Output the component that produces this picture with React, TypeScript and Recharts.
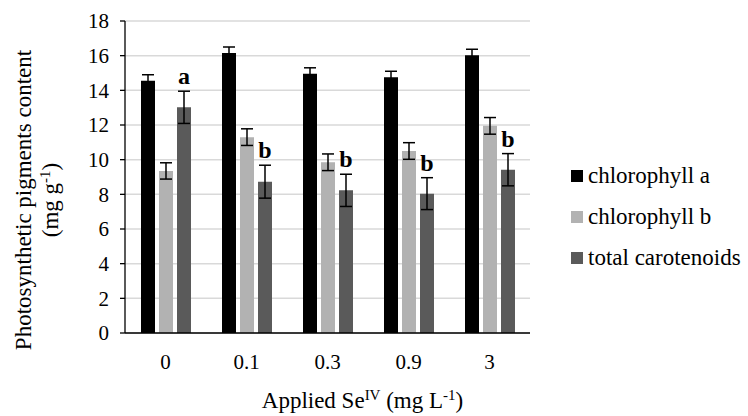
import React from "react"
import { BarChart, Bar, XAxis, YAxis, CartesianGrid, ErrorBar, LabelList, Legend } from "recharts"

const FONT = '"Liberation Serif", "Times New Roman", serif'

// Applied Se(IV) doses
const doses = ["0", "0.1", "0.3", "0.9", "3"]

const chlorophyllA = [14.55, 16.15, 14.95, 14.75, 16.02]
const chlorophyllB = [9.35, 11.3, 9.85, 10.5, 11.95]
const carotenoids = [13.02, 8.73, 8.23, 8.04, 9.42]

const errA = [0.35, 0.35, 0.35, 0.35, 0.35]
const errB = [0.47, 0.48, 0.48, 0.48, 0.48]
const errC = [0.93, 0.95, 0.93, 0.92, 0.93]

const letters = ["a", "b", "b", "b", "b"]

const yTicks = [0, 2, 4, 6, 8, 10, 12, 14, 16, 18]

const SERIES = [
  { key: "chlA", name: "chlorophyll a", color: "#000000", err: "errA" },
  { key: "chlB", name: "chlorophyll b", color: "#b2b2b2", err: "errB" },
  { key: "car", name: "total carotenoids", color: "#5a5a5a", err: "errC" },
]

const data = doses.map((d, i) => ({
  dose: d,
  chlA: chlorophyllA[i],
  chlB: chlorophyllB[i],
  car: carotenoids[i],
  errA: errA[i],
  errB: errB[i],
  errC: errC[i],
  letter: letters[i],
}))

// letter sits just above the carotenoid error bar
const renderLetter = (props: any) => {
  const { x, y, width, height, index } = props
  const perUnit = Number(height) / carotenoids[index]
  const top = Number(y) - errC[index] * perUnit
  return (
    <text
      x={Number(x) + Number(width) / 2}
      y={top - 7}
      textAnchor="middle"
      fontFamily={FONT}
      fontWeight="bold"
      fontSize={24}
      fill="#000"
    >
      {letters[index]}
    </text>
  )
}

const renderLegend = () => (
  <div style={{ fontFamily: FONT, fontSize: 23, color: "#000" }}>
    {SERIES.map((s) => (
      <div key={s.key} style={{ height: 41, display: "flex", alignItems: "center", whiteSpace: "nowrap" }}>
        <span style={{ width: 12, height: 12, background: s.color, display: "inline-block", marginRight: 5 }} />
        <span>{s.name}</span>
      </div>
    ))}
  </div>
)

const XTitle = (props: any) => {
  const { viewBox } = props
  const cx = viewBox.x + viewBox.width / 2 + 35
  return (
    <text x={cx} y={408} textAnchor="middle" fontFamily={FONT} fontSize={23} fill="#000">
      Applied Se
      <tspan dy={-8} fontSize={15}>IV</tspan>
      <tspan dy={8}> (mg L</tspan>
      <tspan dy={-8} fontSize={15}>-1</tspan>
      <tspan dy={8}>)</tspan>
    </text>
  )
}

const YTitle = (props: any) => {
  const { viewBox } = props
  const cy = viewBox.y + viewBox.height / 2 + 23
  return (
    <g fontFamily={FONT} fontSize={23} fill="#000">
      <text x={31} y={cy} textAnchor="middle" transform={`rotate(-90, 31, ${cy})`}>
        Photosynthetic pigments content
      </text>
      <text x={58} y={cy} textAnchor="middle" transform={`rotate(-90, 58, ${cy})`}>
        (mg g
        <tspan dy={-8} fontSize={15}>-1</tspan>
        <tspan dy={8}>)</tspan>
      </text>
    </g>
  )
}

export default function App() {
  return (
    <div style={{ position: "absolute", left: 0, top: 0, width: 748, height: 416, background: "#fff" }}>
      <BarChart
        width={748}
        height={416}
        data={data}
        margin={{ top: 21, right: 218, bottom: 0, left: 0 }}
        barSize={14}
        barGap={4}
      >
        <CartesianGrid vertical={false} stroke="#d9d9d9" strokeWidth={1.5} />
        <XAxis
          dataKey="dose"
          height={83}
          axisLine={{ stroke: "#000", strokeWidth: 1.3 }}
          tickLine={false}
          tickSize={0}
          tickMargin={21}
          tick={{ fill: "#000", fontSize: 21, fontFamily: FONT }}
          label={<XTitle />}
        />
        <YAxis
          width={125}
          domain={[0, 18]}
          ticks={yTicks}
          interval={0}
          axisLine={{ stroke: "#000", strokeWidth: 1.3 }}
          tickLine={{ stroke: "#000", strokeWidth: 1.3 }}
          tickSize={5}
          tickMargin={11}
          tick={{ fill: "#000", fontSize: 21, fontFamily: FONT }}
          label={<YTitle />}
        />
        {SERIES.map((s) => (
          <Bar key={s.key} dataKey={s.key} name={s.name} fill={s.color} isAnimationActive={false}>
            <ErrorBar dataKey={s.err} width={6} stroke="#000" strokeWidth={1.5} isAnimationActive={false} />
            {s.key === "car" && <LabelList dataKey="letter" content={renderLetter} />}
          </Bar>
        ))}
        <Legend
          layout="vertical"
          align="center"
          verticalAlign="middle"
          content={renderLegend}
          wrapperStyle={{ left: 571, top: 155, width: 177 }}
        />
      </BarChart>
    </div>
  )
}
